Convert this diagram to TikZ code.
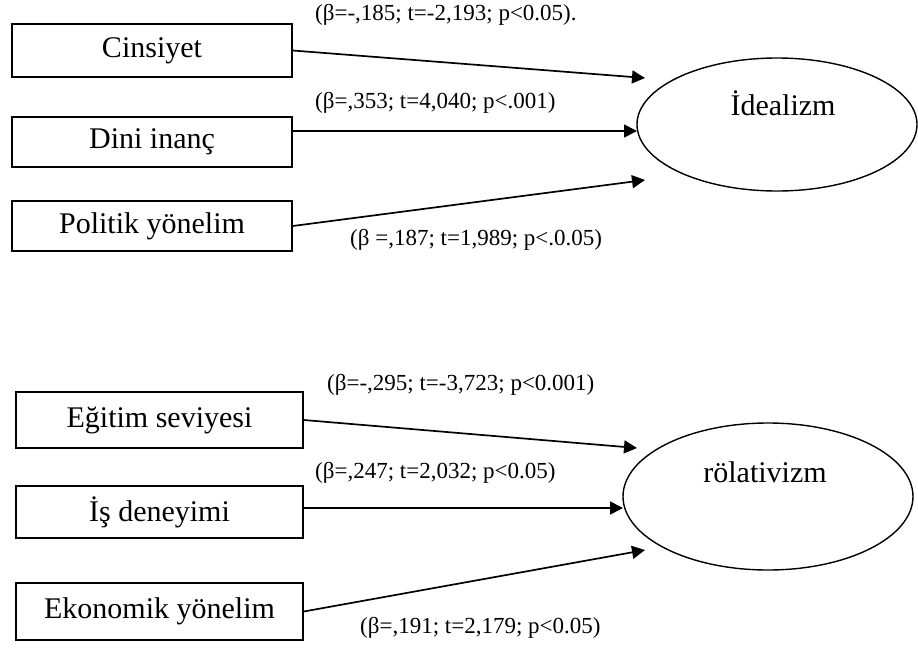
\documentclass[tikz,border=0pt]{standalone}
\usepackage{fontspec}
\setmainfont{Liberation Serif}
\usetikzlibrary{shapes.geometric,arrows.meta}

\tikzset{
	varbox/.style={draw,line width=1.5pt,minimum width=#1,inner sep=0pt,font=\fontsize{30}{35}\selectfont},
	latent/.style={draw,ellipse,line width=1.4pt,inner sep=0pt},
	coef/.style={anchor=west,inner sep=0pt,font=\fontsize{23}{27}\selectfont},
	path/.style={line width=1.7pt,-{Triangle[length=13pt,width=13pt]}}
}

\begin{document}
\begin{tikzpicture}[x=1pt,y=-1pt]
	\useasboundingbox (0,0) rectangle (918,648);
	
	% upper model
	\node[varbox=280pt,minimum height=53pt] (cins) at (152,50.5) {Cinsiyet};
	\node[varbox=280pt,minimum height=50pt] (dini) at (152,142) {Dini inanç};
	\node[varbox=280pt,minimum height=50pt] (polit) at (152,226) {Politik yönelim};
	
	\node[latent,minimum width=280pt,minimum height=133pt] (ideal) at (777,124.5) {};
	\node[font=\fontsize{30}{35}\selectfont,inner sep=0pt] (ideallbl) at (783,103) {İdealizm};
	
	\coordinate (ideal1) at (645,78);
	\coordinate (ideal2) at (637,131);
	\coordinate (ideal3) at (645,180);
	
	\draw[path] (cins.east) -- (ideal1);
	\draw[path] (dini.east |- ideal2) -- (ideal2);
	\draw[path] (polit.east) -- (ideal3);
	
	\node[coef] (c1) at (315,15) {(β=-,185; t=-2,193; p<0.05).};
	\node[coef] (c2) at (315,103) {(β=,353; t=4,040; p<.001)};
	\node[coef] (c3) at (350,240) {(β =,187; t=1,989; p<.0.05)};
	
	% lower model
	\node[varbox=287pt,minimum height=56pt] (egit) at (159.5,420) {Eğitim seviyesi};
	\node[varbox=287pt,minimum height=52pt] (isdn) at (159.5,512) {İş deneyimi};
	\node[varbox=287pt,minimum height=57pt] (ekon) at (159.5,611.5) {Ekonomik yönelim};
	
	\node[latent,minimum width=290pt,minimum height=147pt] (relat) at (768,496.5) {};
	\node[font=\fontsize{30}{35}\selectfont,inner sep=0pt] (relatlbl) at (765,472) {rölativizm};
	
	\coordinate (relat1) at (637,448);
	\coordinate (relat2) at (623,508);
	\coordinate (relat3) at (645,550);
	
	\draw[path] (egit.east) -- (relat1);
	\draw[path] (isdn.east |- relat2) -- (relat2);
	\draw[path] (ekon.east) -- (relat3);
	
	\node[coef] (c4) at (327,385) {(β=-,295; t=-3,723; p<0.001)};
	\node[coef] (c5) at (315,473) {(β=,247; t=2,032; p<0.05)};
	\node[coef] (c6) at (360,628) {(β=,191; t=2,179; p<0.05)};
\end{tikzpicture}
\end{document}
